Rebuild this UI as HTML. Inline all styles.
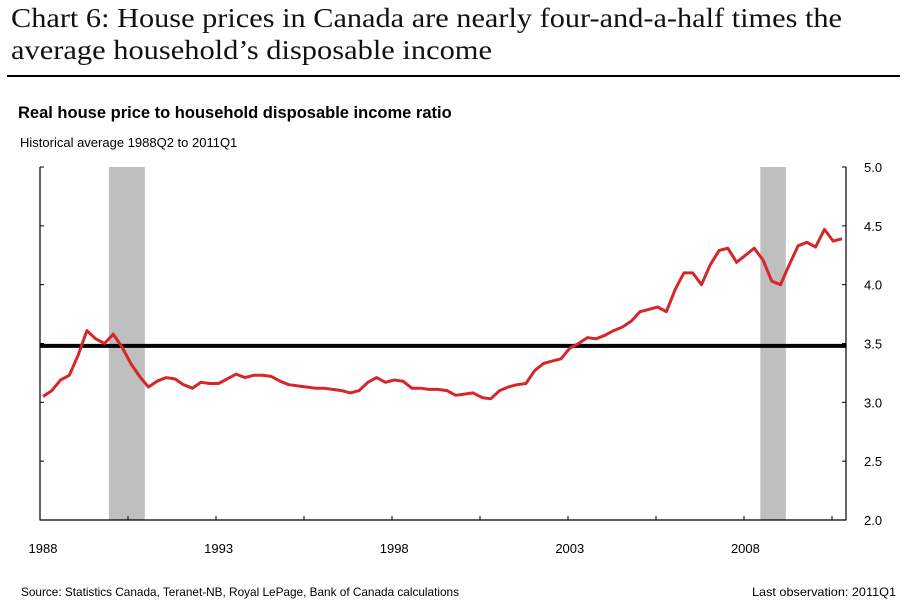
<!DOCTYPE html>
<html><head><meta charset="utf-8"><style>
html,body{margin:0;padding:0;background:#fff;}
svg{display:block;}
</style></head><body>
<svg id="chart" width="904" height="616" viewBox="0 0 904 616" xmlns="http://www.w3.org/2000/svg">
<text x="11" y="27" font-family="'Liberation Serif', serif" font-size="27" textLength="831" lengthAdjust="spacingAndGlyphs" fill="#111">Chart 6: House prices in Canada are nearly four-and-a-half times the</text>
<text x="11" y="59" font-family="'Liberation Serif', serif" font-size="27" textLength="481" lengthAdjust="spacingAndGlyphs" fill="#111">average household’s disposable income</text>
<rect x="7" y="75" width="893" height="2" fill="#000"/>
<text x="18" y="118" font-family="'Liberation Sans', sans-serif" font-size="16.5" font-weight="bold" fill="#000">Real house price to household disposable income ratio</text>
<text x="20" y="147" font-family="'Liberation Sans', sans-serif" font-size="13" fill="#000">Historical average 1988Q2 to 2011Q1</text>
<g id="plot"></g>
<text x="21" y="596" font-family="'Liberation Sans', sans-serif" font-size="12" textLength="438" lengthAdjust="spacingAndGlyphs" fill="#000">Source: Statistics Canada, Teranet-NB, Royal LePage, Bank of Canada calculations</text>
<text x="752" y="596" font-family="'Liberation Sans', sans-serif" font-size="12" textLength="144" lengthAdjust="spacingAndGlyphs" fill="#000">Last observation: 2011Q1</text>
</svg>
<script>
const ratioValues = [3.05,3.10,3.19,3.23,3.40,3.61,3.54,3.50,3.58,3.47,3.33,3.22,3.13,3.18,3.21,3.20,3.15,3.12,3.17,3.16,3.16,3.20,3.24,3.21,3.23,3.23,3.22,3.18,3.15,3.14,3.13,3.12,3.12,3.11,3.10,3.08,3.10,3.17,3.21,3.17,3.19,3.18,3.12,3.12,3.11,3.11,
3.10,3.06,3.07,3.08,3.04,3.03,3.10,3.13,3.15,3.16,3.27,3.33,3.35,3.37,3.46,3.50,3.55,3.54,3.57,3.61,3.64,3.69,3.77,3.79,3.81,3.77,3.96,4.10,4.10,4.00,4.17,4.29,4.31,4.19,4.25,4.31,4.21,4.03,4.00,4.17,4.33,4.36,4.32,4.47,4.37,4.39];
const historicalAverage = [3.48];
const recessionBands = [[7.5, 11.6], [81.7, 84.6]]; // quarter indices from 1988Q2
const yTicks = [2.0, 2.5, 3.0, 3.5, 4.0, 4.5, 5.0];
const xLabels = ["1988", "1993", "1998", "2003", "2008"];
const xLabelQuarters = [0, 20, 40, 60, 80];

const NS = "http://www.w3.org/2000/svg";
const L = 40, R = 846, T = 167, B = 520;
const yMin = 2, yMax = 5;
const x0 = 43, qStep = 8.78;
function xq(i) { return x0 + i * qStep; }
function yv(v) { return B - (v - yMin) / (yMax - yMin) * (B - T); }
const plot = document.getElementById("plot");
function mk(tag, attrs) {
  const e = document.createElementNS(NS, tag);
  for (const k in attrs) e.setAttribute(k, attrs[k]);
  plot.appendChild(e);
  return e;
}

recessionBands.forEach(b => {
  const r = mk("rect", {x: xq(b[0]), y: T, width: xq(b[1]) - xq(b[0]), height: B - T, fill: "#bfbfbf"});
  
  
});

const avg = mk("line", {x1: L, x2: R, y1: yv(historicalAverage[0]), y2: yv(historicalAverage[0]), stroke: "#000", "stroke-width": 4});



const pts = ratioValues.map((v, i) => xq(i).toFixed(1) + "," + yv(v).toFixed(1)).join(" ");
const line = mk("polyline", {points: pts, fill: "none", stroke: "#d7262a", "stroke-width": 3, "stroke-linejoin": "round"});



const axL = mk("line", {x1: L, x2: L, y1: T, y2: B + 0.5, stroke: "#000", "stroke-width": 1.2});


const axR = mk("line", {x1: R, x2: R, y1: T, y2: B + 0.5, stroke: "#000", "stroke-width": 1.2});


const axB = mk("line", {x1: L, x2: R, y1: B, y2: B, stroke: "#000", "stroke-width": 1.2});



yTicks.forEach(t => {
  const y = yv(t);
  const tl = mk("line", {x1: L, x2: L + 4, y1: y, y2: y, stroke: "#000", "stroke-width": 1});
  
  
  const tr = mk("line", {x1: R - 4, x2: R, y1: y, y2: y, stroke: "#000", "stroke-width": 1});
  
  
  const lab = mk("text", {x: 864, y: y + 5, "font-family": "'Liberation Sans', sans-serif", "font-size": 13, fill: "#000", "text-anchor": "start"});
  lab.textContent = t.toFixed(1);
  
  
});

for (let x = L + 88; x < R; x += 88) {
  const tk = mk("line", {x1: x, x2: x, y1: B - 4, y2: B, stroke: "#000", "stroke-width": 1});
  
  
}

xLabels.forEach((s, k) => {
  const t = mk("text", {x: xq(xLabelQuarters[k]), y: 553, "font-family": "'Liberation Sans', sans-serif", "font-size": 13, fill: "#000", "text-anchor": "middle"});
  t.textContent = s;
  
  
});
</script>
</body></html>
